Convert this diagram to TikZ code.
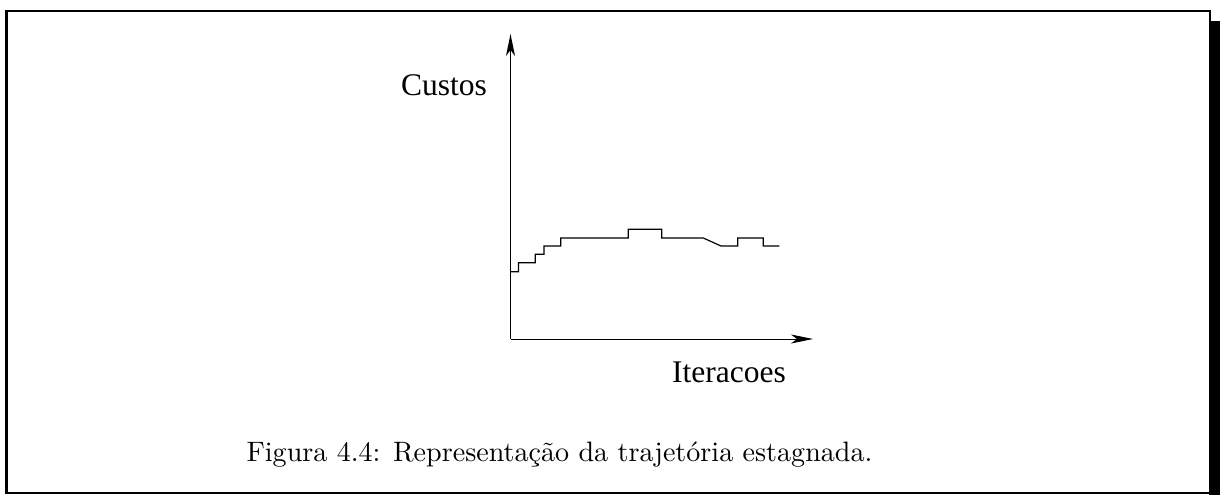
\documentclass[tikz,border=0pt]{standalone}
\usepackage{fontspec}
\newfontfamily\timesf{Liberation Serif}
\usetikzlibrary{arrows.meta}
\begin{document}
\begin{tikzpicture}[x=1pt,y=-1pt,
  axis/.style={line width=1pt, -{Stealth[length=22pt,width=9pt,inset=6pt]}},
  curve/.style={line width=1.2pt},
  lbl/.style={font=\timesf\fontsize{31.5}{36}\selectfont, inner sep=0pt, anchor=base west}]
\useasboundingbox (0,0) rectangle (1220,495);
\draw[line width=2.5pt] (6.5,11) rectangle (1210,493);
\fill (1209,21) rectangle (1221,494.5);
\coordinate (O) at (510.5,339);
\coordinate (ytip) at (510.5,34);
\coordinate (xtip) at (813,339);
\draw[axis] (O) -- (ytip);
\draw[axis] (O) -- (xtip);
\draw[curve] (510.5,271.7) -| (518.5,262.7) -| (535.3,254.3) -| (544,246) -| (560.7,238)
  -| (628.3,229.3) -| (661.7,238) -- (703.3,238) -- (721,246) -| (737.7,238) -| (763.3,246) -- (779.3,246);
\node[lbl] (custos) at (401,95) {Custos};
\node[lbl] (iter) at (672,382) {Iteracoes};
\node[anchor=base west, inner sep=0pt, scale=2.81] (cap) at (246,461)
  {\fontsize{10}{12}\selectfont Figura 4.4: Representação da trajetória estagnada.};
\end{tikzpicture}
\end{document}
